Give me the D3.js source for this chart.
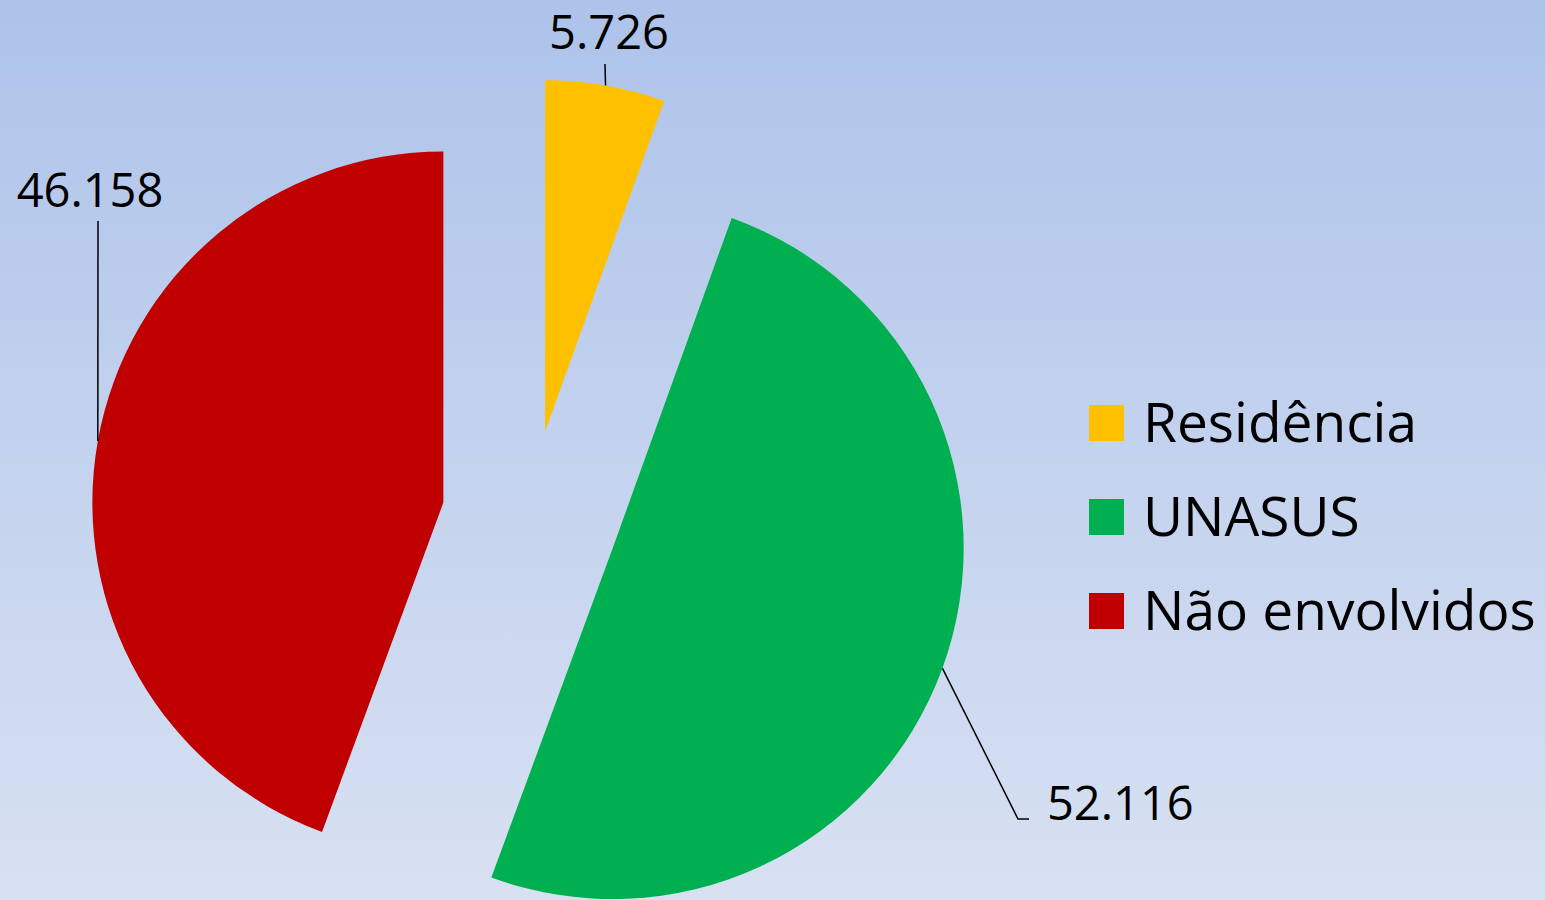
<!DOCTYPE html>
<html>
<head>
<meta charset="utf-8">
<script src="https://cdn.jsdelivr.net/npm/d3@7"></script>
<style>
  html, body { margin: 0; padding: 0; overflow: hidden; }
  svg { display: block; font-family: "Open Sans", sans-serif; }
</style>
</head>
<body>
<div id="chart"></div>
<script>
// data
var categories = ["Residência", "UNASUS", "Não envolvidos"];
var values = [5.726, 52.116, 46.158];
var valueLabels = ["5.726", "52.116", "46.158"];
var colors = ["#FFC000", "#00B050", "#C00000"];

var svgWidth = 1545;
var svgHeight = 900;

// pie layout
var center = { x: 530, y: 518 };
var radius = 351;
var explode = 88;

// where each label's leader line ends (layout only)
var labelLayout = [
  { anchor: "middle", tx: 609, ty: 49, line: [[605, 64]] },
  { anchor: "start", tx: 1047, ty: 820, line: [[1018, 819], [1029, 819]] },
  { anchor: "middle", tx: 90, ty: 207, line: [[98, 221]] }
];

var svg = d3.select("#chart")
  .append("svg")
  .attr("width", svgWidth)
  .attr("height", svgHeight);

// background gradient
var defs = svg.append("defs");
var grad = defs.append("linearGradient")
  .attr("id", "bg")
  .attr("x1", 0).attr("y1", 0)
  .attr("x2", 0).attr("y2", 1);
grad.append("stop").attr("offset", "0%").attr("stop-color", "#AEC3EA");
grad.append("stop").attr("offset", "100%").attr("stop-color", "#D8E1F2");

svg.append("rect")
  .attr("width", svgWidth)
  .attr("height", svgHeight)
  .attr("fill", "url(#bg)");

var pie = d3.pie().sort(null).value(d => d);
var arcs = pie(values);

var arc = d3.arc().innerRadius(0).outerRadius(radius);

function offsetOf(d) {
  var mid = (d.startAngle + d.endAngle) / 2;
  return [Math.sin(mid) * explode, -Math.cos(mid) * explode];
}

var chartGroup = svg.append("g")
  .attr("transform", `translate(${center.x}, ${center.y})`);

chartGroup.selectAll("path.slice")
  .data(arcs)
  .enter()
  .append("path")
  .attr("class", "slice")
  .attr("d", arc)
  .attr("fill", (d, i) => colors[i])
  .attr("transform", d => {
    var o = offsetOf(d);
    return `translate(${o[0]}, ${o[1]})`;
  });

// leader lines, starting from the middle of each slice's arc
var line = d3.line();
svg.selectAll("path.leader")
  .data(arcs)
  .enter()
  .append("path")
  .attr("class", "leader")
  .attr("fill", "none")
  .attr("stroke", "#000")
  .attr("stroke-width", 1.5)
  .attr("d", (d, i) => {
    var o = offsetOf(d);
    var mid = (d.startAngle + d.endAngle) / 2;
    var start = [center.x + o[0] + Math.sin(mid) * radius,
                 center.y + o[1] - Math.cos(mid) * radius];
    return line([start].concat(labelLayout[i].line));
  });

svg.selectAll("text.value")
  .data(arcs)
  .enter()
  .append("text")
  .attr("class", "value")
  .attr("x", (d, i) => labelLayout[i].tx)
  .attr("y", (d, i) => labelLayout[i].ty)
  .attr("text-anchor", (d, i) => labelLayout[i].anchor)
  .attr("font-size", "47px")
  .attr("fill", "#000")
  .text((d, i) => valueLabels[i]);

// legend
var legend = svg.append("g")
  .attr("transform", "translate(1089, 405)");

var item = legend.selectAll("g")
  .data(categories)
  .enter()
  .append("g")
  .attr("transform", (d, i) => `translate(0, ${i * 94})`);

item.append("rect")
  .attr("width", 35)
  .attr("height", 36)
  .attr("fill", (d, i) => colors[i]);

item.append("text")
  .attr("x", 54)
  .attr("y", 37)
  .attr("font-size", "55px")
  .attr("fill", "#000")
  .text(d => d);
</script>
</body>
</html>
